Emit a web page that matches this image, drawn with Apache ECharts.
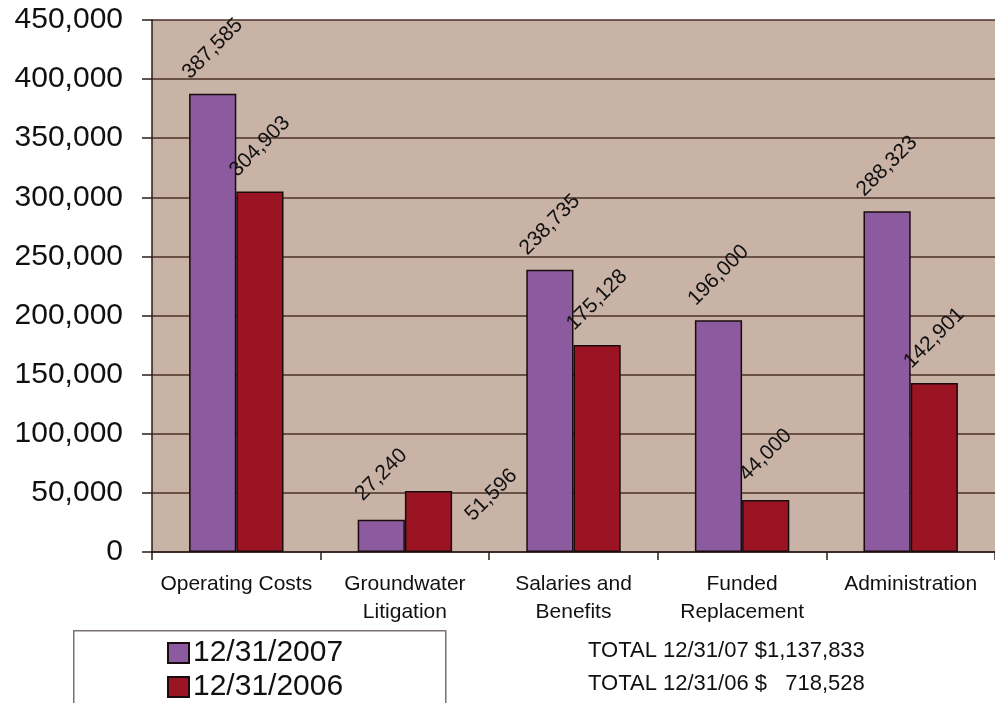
<!DOCTYPE html>
<html>
<head>
<meta charset="utf-8">
<script src="https://cdn.jsdelivr.net/npm/echarts@6/dist/echarts.min.js"></script>
<style>
html,body{margin:0;padding:0;background:#fff;}
#chart{width:995px;height:703px;}
</style>
</head>
<body>
<div id="chart"></div>
<script>
var categories = ['Operating Costs', 'Groundwater\nLitigation', 'Salaries and\nBenefits', 'Funded\nReplacement', 'Administration'];
var series2007 = [387585, 27240, 238735, 196000, 288323];
var series2006 = [304903, 51596, 175128, 44000, 142901];
var seriesNames = ['12/31/2007', '12/31/2006'];
var yTicks = {min: 0, max: 450000, interval: 50000};
var totalsText = ['TOTAL 12/31/07 $1,137,833', 'TOTAL 12/31/06 $   718,528'];

function fmt(v) { return String(v).replace(/\B(?=(\d{3})+(?!\d))/g, ','); }

var FONT = "'Liberation Sans', Arial, sans-serif";
var baseLabel = {
  show: true, position: 'top', distance: 45, rotate: 45,
  align: 'center', verticalAlign: 'middle',
  fontFamily: FONT, fontSize: 21, color: '#111',
  formatter: function (p) { return fmt(p.value); }
};

var data2006 = series2006.map(function (v, i) {
  if (i === 1) {
    return {value: v, label: {position: ['183%', 4]}};
  }
  return v;
});

var chart = echarts.init(document.getElementById('chart'));
chart.setOption({
  animation: false,
  backgroundColor: '#ffffff',
  grid: {
    left: 152, top: 20, right: -7, bottom: 151,
    show: true, backgroundColor: '#c9b2a6', borderWidth: 0
  },
  legend: {
    orient: 'vertical', left: 167, top: 638, height: 200,
    padding: 0, itemGap: 4,
    itemWidth: 21, itemHeight: 20,
    icon: 'rect',
    textStyle: {fontFamily: FONT, fontSize: 30, color: '#111', padding: [0, 0, 0, -1]},
    data: seriesNames
  },
  xAxis: {
    type: 'category', data: categories,
    axisLine: {show: true, lineStyle: {color: '#2a1c18', width: 1.5}},
    axisTick: {show: true, length: 8, lineStyle: {color: '#2a1c18', width: 1.5}},
    axisLabel: {fontFamily: FONT, fontSize: 21, color: '#111', margin: 18, lineHeight: 28, interval: 0}
  },
  yAxis: {
    type: 'value', min: yTicks.min, max: yTicks.max, interval: yTicks.interval,
    axisLine: {show: true, lineStyle: {color: '#2a1c18', width: 1.5}},
    axisTick: {show: true, length: 10, lineStyle: {color: '#2a1c18', width: 1.5}},
    axisLabel: {fontFamily: FONT, fontSize: 30, color: '#111', margin: 29,
      formatter: function (v) { return fmt(v); }},
    splitLine: {show: true, lineStyle: {color: '#4a3128', width: 1.5}}
  },
  series: [
    {
      name: seriesNames[0], type: 'bar', data: series2007,
      barGap: '0%', barCategoryGap: '44%',
      itemStyle: {color: '#8c5a9e', borderColor: '#1a0c0c', borderWidth: 1.5},
      label: baseLabel
    },
    {
      name: seriesNames[1], type: 'bar', data: data2006,
      barGap: '0%', barCategoryGap: '44%',
      itemStyle: {color: '#9a1424', borderColor: '#1a0c0c', borderWidth: 1.5},
      label: baseLabel
    }
  ],
  graphic: [
    {type: 'rect', left: 73, top: 630, z: -1,
      shape: {width: 372, height: 90},
      style: {fill: '#ffffff', stroke: '#7a7370', lineWidth: 1.5}},
    {type: 'text', left: 588, top: 640,
      style: {text: totalsText[0], fontFamily: FONT, fontSize: 22, fill: '#111'}},
    {type: 'text', left: 588, top: 673,
      style: {text: totalsText[1], fontFamily: FONT, fontSize: 22, fill: '#111'}}
  ]
});
</script>
</body>
</html>
